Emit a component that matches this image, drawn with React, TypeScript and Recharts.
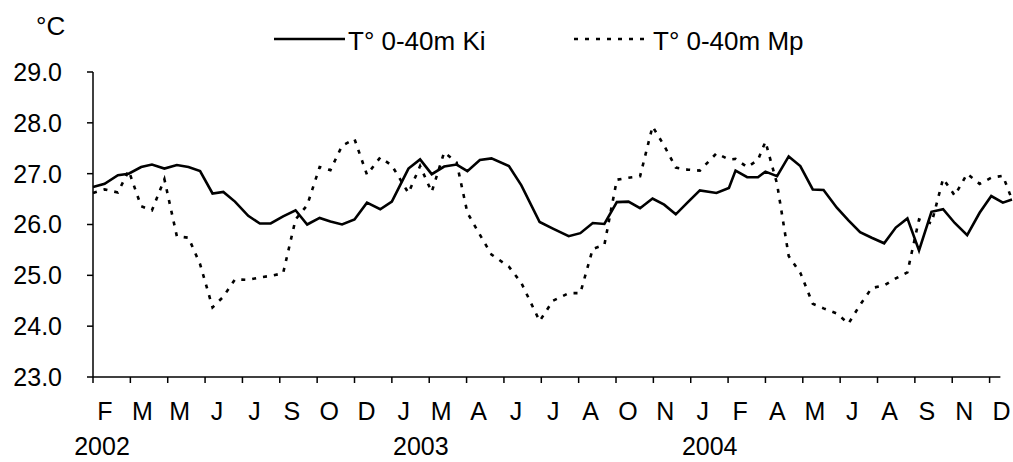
import React from 'react';
import { LineChart, Line, XAxis, YAxis, ReferenceLine } from 'recharts';

// sampling dates, days after 1 Feb 2002
const DAYS = [
  0, 14, 30, 43, 58, 71, 86, 101, 115, 129,
  144, 157, 171, 187, 201, 214, 229, 244, 258, 273,
  286, 300, 315, 330, 346, 360, 380, 394, 408, 423,
  438, 451, 466, 480, 501, 516, 538, 554, 573, 587,
  602, 616, 631, 645, 659, 674, 688, 702, 716, 731,
  751, 766, 774, 788, 801, 810, 824, 838, 852, 867,
  880, 896, 910, 924, 938, 953, 967, 981, 995, 1010,
  1024, 1038, 1053, 1068, 1082, 1096, 1107,
];

const TEMP_KI = [
  26.74, 26.8, 26.97, 27.0, 27.13, 27.18, 27.1, 27.17, 27.13, 27.05,
  26.61, 26.64, 26.45, 26.17, 26.02, 26.02, 26.16, 26.28, 26.0, 26.13,
  26.06, 26.0, 26.1, 26.43, 26.3, 26.45, 27.1, 27.28, 26.99, 27.14,
  27.18, 27.05, 27.27, 27.3, 27.15, 26.77, 26.05, 25.92, 25.77, 25.83,
  26.03, 26.01, 26.44, 26.45, 26.32, 26.51, 26.39, 26.2, 26.43, 26.67,
  26.62, 26.72, 27.06, 26.93, 26.93, 27.04, 26.95, 27.34, 27.15, 26.69,
  26.68, 26.33, 26.08, 25.85, 25.74, 25.63, 25.94, 26.12, 25.49, 26.25,
  26.3, 26.03, 25.79, 26.23, 26.56, 26.43, 26.49,
];

const TEMP_MP = [
  26.62, 26.69, 26.63, 27.06, 26.36, 26.28, 26.89, 25.77, 25.74, 25.22,
  24.37, 24.58, 24.92, 24.91, 24.96, 24.99, 25.04, 26.1, 26.38, 27.13,
  27.07, 27.55, 27.68, 26.98, 27.32, 27.16, 26.62, 27.15, 26.64, 27.42,
  27.22, 26.23, 25.8, 25.41, 25.17, 24.85, 24.1, 24.5, 24.65, 24.65,
  25.52, 25.6, 26.88, 26.92, 26.95, 27.93, 27.55, 27.12, 27.08, 27.06,
  27.4, 27.28, 27.29, 27.13, 27.27, 27.63, 26.8, 25.38, 25.05, 24.44,
  24.35, 24.25, 24.05, 24.42, 24.75, 24.8, 24.94, 25.06, 26.1, 26.02,
  26.9, 26.57, 27.0, 26.8, 26.92, 26.96, 26.49,
];

const TICK_DAYS = [
  0, 45, 90, 135, 180, 225, 270, 315, 360, 405, 450, 495, 540,
  585, 630, 675, 720, 765, 810, 855, 900, 945, 990, 1035, 1080,
];
const MONTH_LABELS = [
  'F', 'M', 'M', 'J', 'J', 'S', 'O', 'D', 'J', 'M', 'A', 'J', 'J',
  'A', 'O', 'N', 'J', 'F', 'A', 'M', 'J', 'A', 'S', 'N', 'D',
];
const YEARS = ['2002', '2003', '2004'];
const YEAR_TICK_INDEX = [0, 8, 16];
const Y_TICKS = [23, 24, 25, 26, 27, 28, 29];

const SERIES_NAMES = ['T° 0-40m Ki', 'T° 0-40m Mp'];

const FONT = '"Liberation Sans", Arial, Helvetica, sans-serif';
const AXIS_FONT = 25;
const LEGEND_FONT = 26;
const DASH = '4 7';
const YEAR_DX = [-3, 17, 7];
const AXIS_END_DAY = 1093;

const chartData = DAYS.map((d, i) => ({ day: d, ki: TEMP_KI[i], mp: TEMP_MP[i] }));

function MonthTick(props: any) {
  const { x, y, payload } = props;
  const i = payload.index;
  const yi = YEAR_TICK_INDEX.indexOf(i);
  return (
    <g>
      <text x={x + 12} y={y + 35} textAnchor="middle" fontSize={AXIS_FONT} fontFamily={FONT} fill="#000">
        {MONTH_LABELS[i]}
      </text>
      {yi >= 0 && (
        <text x={x + 12 + YEAR_DX[yi]} y={y + 70} textAnchor="middle" fontSize={AXIS_FONT} fontFamily={FONT} fill="#000">
          {YEARS[yi]}
        </text>
      )}
    </g>
  );
}

export default function App() {
  return (
    <div style={{ position: 'absolute', left: 0, top: 0, width: 1013, height: 462, background: '#fff', fontFamily: FONT }}>
      <LineChart width={1013} height={462} data={chartData} margin={{ top: 72, right: 1, bottom: 0, left: 0 }}>
        <XAxis
          dataKey="day"
          type="number"
          domain={[0, 1107]}
          ticks={TICK_DAYS}
          interval={0}
          tick={<MonthTick />}
          tickSize={6}
          tickLine={{ stroke: '#000', strokeWidth: 1.5 }}
          axisLine={false}
          height={85}
        />
        <YAxis
          domain={[23, 29]}
          ticks={Y_TICKS}
          interval={0}
          tickFormatter={(v: number) => v.toFixed(1)}
          width={93}
          tickSize={6}
          tickMargin={25}
          tick={{ fontSize: AXIS_FONT, fill: '#000', fontFamily: FONT }}
          tickLine={{ stroke: '#000', strokeWidth: 1.5 }}
          axisLine={{ stroke: '#000', strokeWidth: 1.5 }}
        />
        <ReferenceLine
          segment={[{ x: 0, y: 23 }, { x: AXIS_END_DAY, y: 23 }]}
          stroke="#000"
          strokeWidth={1.5}
        />
        <Line type="linear" dataKey="ki" stroke="#000" strokeWidth={2.6} dot={false} isAnimationActive={false} />
        <Line type="linear" dataKey="mp" stroke="#000" strokeWidth={2.6} strokeDasharray={DASH} dot={false} isAnimationActive={false} />
      </LineChart>

      {/* unit + legend */}
      <svg width={1013} height={60} style={{ position: 'absolute', left: 0, top: 0 }}>
        <text x={36} y={35} fontSize={LEGEND_FONT} fontFamily={FONT} fill="#000">°C</text>
        <line x1={274} y1={39} x2={345} y2={39} stroke="#000" strokeWidth={2.6} />
        <text x={348} y={50} fontSize={LEGEND_FONT} fontFamily={FONT} fill="#000">{SERIES_NAMES[0]}</text>
        <line x1={574} y1={39} x2={649} y2={39} stroke="#000" strokeWidth={2.6} strokeDasharray={DASH} />
        <text x={653} y={50} fontSize={LEGEND_FONT} fontFamily={FONT} fill="#000">{SERIES_NAMES[1]}</text>
      </svg>
    </div>
  );
}
